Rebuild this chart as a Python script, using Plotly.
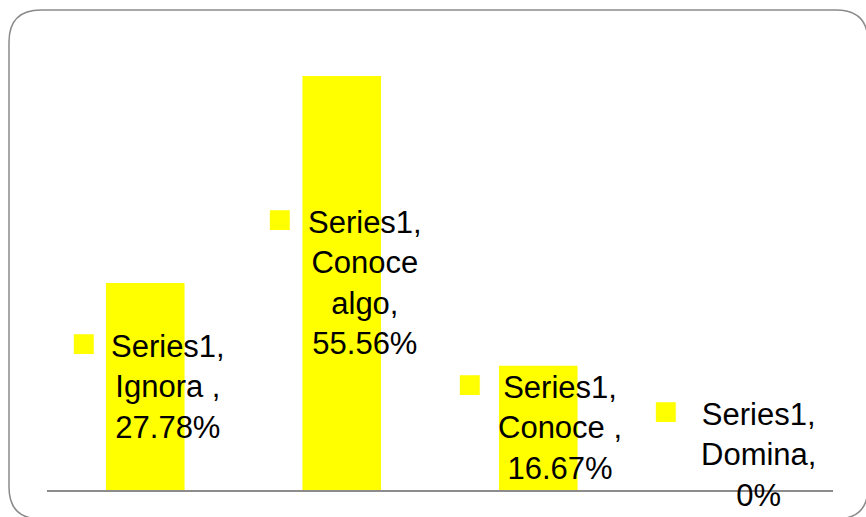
import plotly.graph_objects as go

categories = ["Ignora ", "Conoce algo", "Conoce ", "Domina"]
values = [27.78, 55.56, 16.67, 0]
series_name = "Series1"
label_lines = [
    ["Series1,", "Ignora ,", "27.78%"],
    ["Series1,", "Conoce", "algo,", "55.56%"],
    ["Series1,", "Conoce ,", "16.67%"],
    ["Series1,", "Domina,", "0%"],
]

# style / position settings (page pixels)
W, H = 866, 517
ML, MR, MT, MB = 47, 33, 43, 27
YMAX = 60
FONT = "Liberation Sans, Arial, sans-serif"
FSIZE = 31
LINE_H = 41
YELLOW = "#FFFF00"
text_dx = [23, 23, 22, 24]
marker_dx = [-61, -61, -68, -68]
zero_lift = 35

fig = go.Figure()
fig.add_trace(go.Bar(
    x=categories, y=values, name=series_name,
    marker=dict(color=YELLOW, line=dict(width=0)),
    hoverinfo="skip",
))

annotations = []
for i, (c, v, lines) in enumerate(zip(categories, values, label_lines)):
    lift = zero_lift if v == 0 else 0
    annotations.append(dict(
        x=c, y=v / 2, xref="x", yref="y",
        text="<br>".join(lines), showarrow=False,
        xanchor="center", yanchor="middle", align="center",
        xshift=text_dx[i], yshift=lift,
        font=dict(family=FONT, size=FSIZE, color="black"),
    ))
    n = len(lines)
    annotations.append(dict(
        x=c, y=v / 2, xref="x", yref="y",
        text="■", showarrow=False,
        xanchor="center", yanchor="middle",
        xshift=marker_dx[i], yshift=lift + (n - 1) / 2 * LINE_H + 4,
        font=dict(family="DejaVu Sans", size=26, color=YELLOW),
    ))

# rounded frame in paper coordinates
pw, ph = W - ML - MR, H - MT - MB
def px(x):
    return (x - ML) / pw
def py(y):
    return (H - MB - y) / ph
x0, x1, y0, y1, r = 9, 868, 10, 519, 32
path = (
    f"M {px(x0 + r)} {py(y0)} L {px(x1 - r)} {py(y0)} "
    f"Q {px(x1)} {py(y0)} {px(x1)} {py(y0 + r)} "
    f"L {px(x1)} {py(y1 - r)} Q {px(x1)} {py(y1)} {px(x1 - r)} {py(y1)} "
    f"L {px(x0 + r)} {py(y1)} Q {px(x0)} {py(y1)} {px(x0)} {py(y1 - r)} "
    f"L {px(x0)} {py(y0 + r)} Q {px(x0)} {py(y0)} {px(x0 + r)} {py(y0)} Z"
)

fig.update_layout(
    width=W, height=H,
    margin=dict(l=ML, r=MR, t=MT, b=MB),
    paper_bgcolor="white", plot_bgcolor="white",
    showlegend=False, bargap=0.6,
    annotations=annotations,
    shapes=[dict(type="path", path=path, xref="paper", yref="paper",
                 line=dict(color="#8a8a8a", width=1.5), layer="below")],
    xaxis=dict(showticklabels=False, ticks="", showgrid=False, zeroline=False,
               showline=True, linecolor="#8c8c8c", linewidth=2),
    yaxis=dict(range=[0, YMAX], showticklabels=False, ticks="", showgrid=False,
               zeroline=False, showline=False),
)

fig.write_html(
    "out.html",
    config={"displayModeBar": False},
    post_script="document.body.style.margin='0px';document.body.style.overflow='hidden';",
)
